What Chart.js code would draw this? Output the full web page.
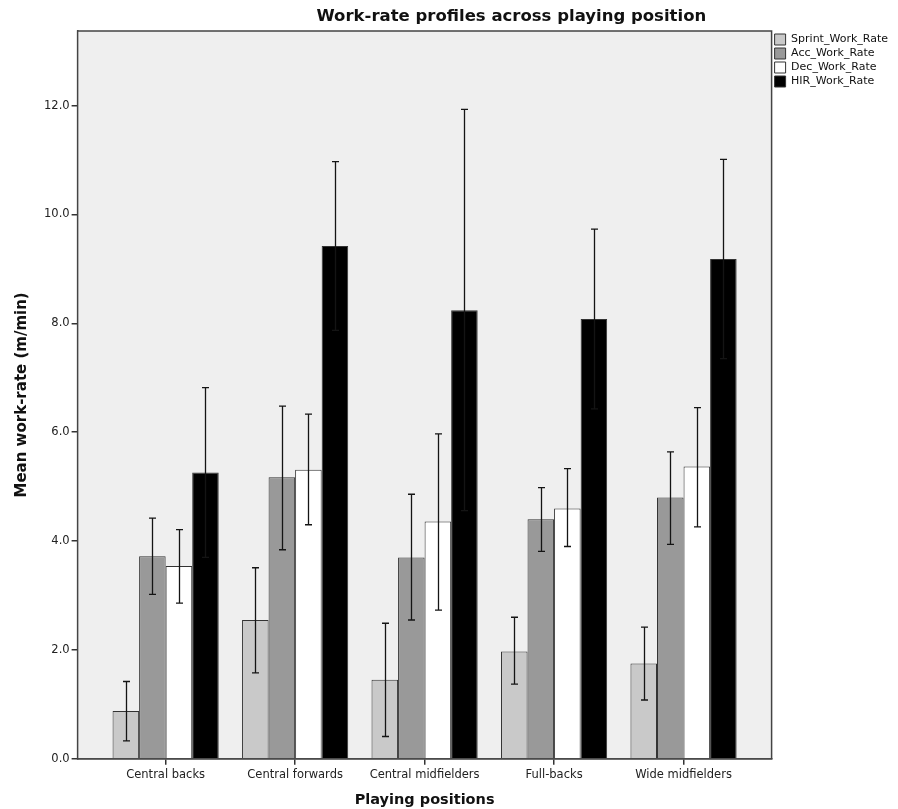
<!DOCTYPE html>
<html>
<head>
<meta charset="utf-8">
<script src="https://cdn.jsdelivr.net/npm/chart.js@4/dist/chart.umd.min.js"></script>
<style>
  html, body { margin: 0; padding: 0; background: #fff; }
  #wrap { width: 898px; height: 809px; }
</style>
</head>
<body>
<div id="wrap"><canvas id="chart" width="898" height="809"></canvas></div>
<script>
const categories = ["Central backs", "Central forwards", "Central midfielders", "Full-backs", "Wide midfielders"];

const sprint   = [0.88, 2.55, 1.45, 1.97, 1.75];
const sprintLo = [0.33, 1.58, 0.41, 1.37, 1.08];
const sprintHi = [1.42, 3.51, 2.49, 2.60, 2.42];

const acc   = [3.72, 5.17, 3.70, 4.40, 4.80];
const accLo = [3.02, 3.84, 2.55, 3.81, 3.94];
const accHi = [4.42, 6.48, 4.86, 4.98, 5.64];

const dec   = [3.54, 5.31, 4.36, 4.60, 5.37];
const decLo = [2.86, 4.30, 2.73, 3.90, 4.26];
const decHi = [4.21, 6.33, 5.97, 5.33, 6.45];

const hir   = [5.26, 9.42, 8.24, 8.08, 9.18];
const hirLo = [3.70, 7.87, 4.56, 6.43, 7.35];
const hirHi = [6.82, 10.97, 11.93, 9.73, 11.01];

const yTicks = [0, 2, 4, 6, 8, 10, 12];

const FONT = "'DejaVu Sans', sans-serif";

function series(label, values, lo, hi, color) {
  return {
    label: label,
    data: values.map((v, i) => ({ x: i, y: v })),
    errLo: lo,
    errHi: hi,
    backgroundColor: color,
    borderColor: "#333333",
    borderWidth: 1,
    borderSkipped: "bottom",
    barPercentage: 1.0,
    categoryPercentage: 0.82
  };
}

const plotFrame = {
  id: "plotFrame",
  beforeDatasetsDraw(chart) {
    const { ctx, chartArea: a } = chart;
    ctx.save();
    ctx.fillStyle = "#efefef";
    ctx.fillRect(a.left, a.top, a.right - a.left, a.bottom - a.top);
    ctx.restore();
  },
  afterDatasetsDraw(chart) {
    const { ctx, chartArea: a, scales } = chart;
    const y = scales.y;
    ctx.save();
    // error bars
    ctx.strokeStyle = "#141414";
    ctx.lineWidth = 1.3;
    chart.data.datasets.forEach((ds, di) => {
      const meta = chart.getDatasetMeta(di);
      meta.data.forEach((bar, i) => {
        const x = Math.round(bar.x) + 0.5;
        const yl = y.getPixelForValue(ds.errLo[i]);
        const yh = y.getPixelForValue(ds.errHi[i]);
        ctx.beginPath();
        ctx.moveTo(x, yl); ctx.lineTo(x, yh);
        ctx.moveTo(x - 3.5, yl); ctx.lineTo(x + 3.5, yl);
        ctx.moveTo(x - 3.5, yh); ctx.lineTo(x + 3.5, yh);
        ctx.stroke();
      });
    });
    // frame
    ctx.strokeStyle = "#444444";
    ctx.lineWidth = 1.5;
    ctx.strokeRect(a.left, a.top, a.right - a.left, a.bottom - a.top);
    // title
    ctx.fillStyle = "#111";
    ctx.font = "bold 16.5px " + FONT;
    ctx.textAlign = "center";
    ctx.textBaseline = "middle";
    ctx.fillText("Work-rate profiles across playing position", a.left + (a.right - a.left) * 0.625, 17);
    ctx.restore();
  }
};

new Chart(document.getElementById("chart"), {
  type: "bar",
  data: {
    datasets: [
      series("Sprint_Work_Rate", sprint, sprintLo, sprintHi, "#c9c9c9"),
      series("Acc_Work_Rate", acc, accLo, accHi, "#999999"),
      series("Dec_Work_Rate", dec, decLo, decHi, "#ffffff"),
      series("HIR_Work_Rate", hir, hirLo, hirHi, "#000000")
    ]
  },
  options: {
    responsive: false,
    animation: false,
    layout: { padding: { top: 31, left: 13, right: 0, bottom: 0 } },
    scales: {
      x: {
        type: "linear",
        min: -0.68,
        max: 4.68,
        offset: false,
        afterBuildTicks(scale) {
          scale.ticks = categories.map((c, i) => ({ value: i }));
        },
        ticks: {
          autoSkip: false,
          maxRotation: 0,
          padding: 3,
          color: "#222",
          font: { family: FONT, size: 11.5 },
          callback: (v) => categories[v]
        },
        grid: { offset: false, drawOnChartArea: false, drawTicks: true, tickLength: 6, color: "#333", lineWidth: 1.5 },
        border: { display: true, color: "#444", width: 1.5 },
        title: {
          display: true,
          text: "Playing positions",
          color: "#111",
          font: { family: FONT, size: 14.5, weight: "bold" },
          padding: { top: 7, bottom: 0 }
        }
      },
      y: {
        min: 0,
        max: 13.37,
        afterBuildTicks(scale) {
          scale.ticks = yTicks.map(v => ({ value: v }));
        },
        ticks: {
          padding: 2,
          color: "#222",
          font: { family: FONT, size: 11.5 },
          callback: (v) => v.toFixed(1)
        },
        grid: { drawOnChartArea: false, drawTicks: true, tickLength: 6, color: "#333", lineWidth: 1.5 },
        border: { display: true, color: "#444", width: 1.5 },
        title: {
          display: true,
          text: "Mean work-rate (m/min)",
          color: "#111",
          font: { family: FONT, size: 15, weight: "bold" },
          padding: { top: 0, bottom: 11 }
        }
      }
    },
    plugins: {
      tooltip: { enabled: false },
      title: { display: false },
      legend: {
        position: "right",
        align: "start",
        labels: {
          boxWidth: 11,
          boxHeight: 11,
          padding: 3,
          color: "#111",
          font: { family: FONT, size: 11 }
        }
      }
    }
  },
  plugins: [plotFrame]
});
</script>
</body>
</html>
